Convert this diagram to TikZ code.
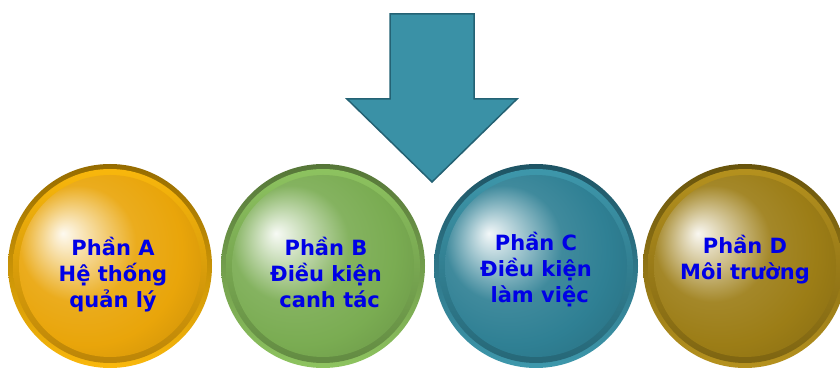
\documentclass[tikz,border=0pt]{standalone}
\usepackage{fontspec}
\setmainfont{DejaVu Sans}
\usetikzlibrary{positioning}

\definecolor{colA}{RGB}{233,165,10}
\definecolor{colAdark}{RGB}{150,108,0}
\definecolor{colAlight}{RGB}{250,184,12}
\definecolor{colB}{RGB}{122,172,82}
\definecolor{colBdark}{RGB}{86,118,56}
\definecolor{colBlight}{RGB}{142,196,96}
\definecolor{colC}{RGB}{47,128,148}
\definecolor{colCdark}{RGB}{30,84,100}
\definecolor{colClight}{RGB}{62,152,172}
\definecolor{colD}{RGB}{156,125,22}
\definecolor{colDdark}{RGB}{104,84,12}
\definecolor{colDlight}{RGB}{182,146,30}
\definecolor{arrfill}{RGB}{58,145,166}
\definecolor{arredge}{RGB}{36,98,116}
\definecolor{txtblue}{RGB}{0,0,230}

\colorlet{sphc}{colA}
\colorlet{sphd}{colAdark}
\colorlet{sphl}{colAlight}
\pgfdeclareradialshading[sphc]{sphere}{\pgfpoint{-13bp}{9bp}}{%
  color(0bp)=(sphc!6!white); color(3bp)=(sphc!22!white);
  color(16bp)=(sphc!92!white); color(26bp)=(sphc);
  color(40bp)=(sphc!84!black); color(50bp)=(sphc!80!black)}

\tikzset{tone/.code={\colorlet{sphc}{#1}\colorlet{sphd}{#1dark}\colorlet{sphl}{#1light}}}
\tikzstyle{sphere} = [circle, minimum size=204pt, inner sep=0pt, shading angle=45, top color=sphd, bottom color=sphl,
  path picture={
    \shade[shading angle=45, top color=sphl, bottom color=sphc!80!black] (path picture bounding box.center) circle (97pt);
    \shade[shading=sphere] (path picture bounding box.center) circle (91pt);
  }]
\tikzstyle{caption} = [align=center, text=txtblue, inner sep=0pt, font=\fontsize{21}{26}\selectfont\bfseries]
\tikzstyle{bigarrow} = [fill=arrfill, draw=arredge, line width=1.5pt, line join=miter]

\begin{document}
\begin{tikzpicture}[x=1pt, y=1pt, node distance=213pt]
	\clip (0,0) rectangle (840,369);
	
	\node (partA) [tone=colA, sphere] at (110,103) {};
	
	\node (partB) [tone=colB, sphere, right of=partA] {};
	
	\node (partC) [tone=colC, sphere, right of=partB] {};
	
	\node (partD) [tone=colD, sphere, right of=partC, xshift=-4pt] {};
	
	\node (textA) [caption] at ([xshift=3pt, yshift=-9pt]partA.center) {Phần A\\Hệ thống\\quản lý};
	\node (textB) [caption] at ([xshift=3pt, yshift=-6pt]partB.center) {Phần B\\Điều kiện\\~canh tác};
	\node (textC) [caption] at ([yshift=-4pt]partC.center) {Phần C\\Điều kiện\\~làm việc};
	\node (textD) [caption] at ([yshift=6pt]partD.center) {Phần D\\Môi trường};
	
	\coordinate (tip) at (432,187);
	\draw [bigarrow] (tip) -- ++(-85,83) -- ++(43,0) -- ++(0,85) -- ++(84,0) -- ++(0,-85) -- ++(43,0) -- cycle;
\end{tikzpicture}
\end{document}
